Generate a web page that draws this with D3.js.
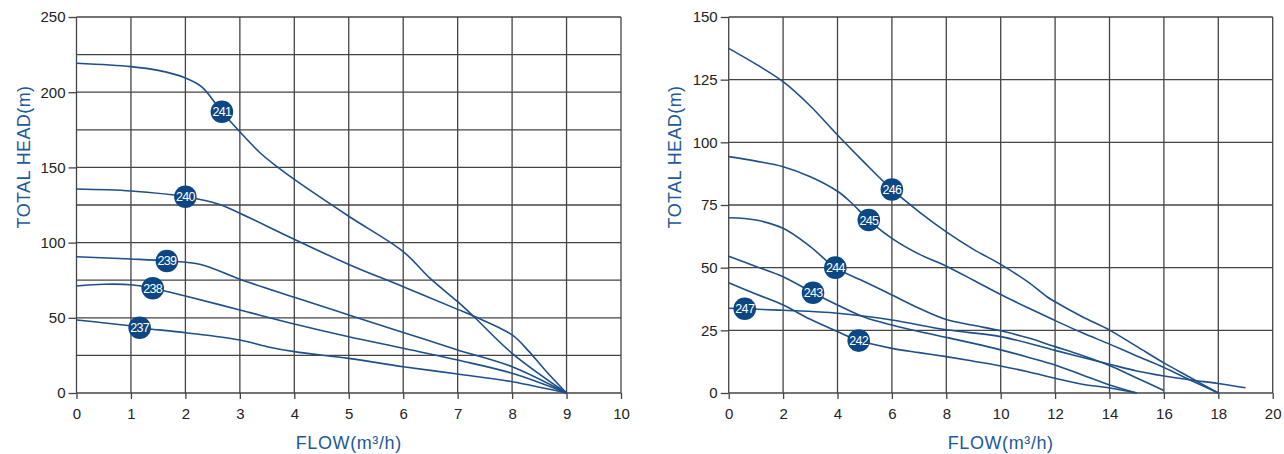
<!DOCTYPE html>
<html>
<head>
<meta charset="utf-8">
<script src="https://cdn.jsdelivr.net/npm/d3@7"></script>
<style>
  html, body { margin: 0; padding: 0; background: #fff; }
  svg { display: block; }
</style>
</head>
<body>
<svg id="chart" width="1284" height="454"></svg>
<script>
// ---------- Data ----------
// Left chart (FLOW 0-10, HEAD 0-250)
const leftXTicks = [0,1,2,3,4,5,6,7,8,9,10];
const leftYTicks = [0,50,100,150,200,250];
const leftYGrid  = [0,25,50,75,100,125,150,175,200,225,250];

const curve241 = [[0,219.2],[1,217],[1.5,214.5],[2,209.5],[2.3,203.6],[2.67,187],[3,173.7],[3.38,159.4],[3.7,150],[4,142],[5,117.5],[6,94],[6.5,76],[7,60.7],[7.3,50.7],[8,26.4],[9,0]];
const curve240 = [[0,135.6],[1,134.3],[2,130.5],[2.6,125.7],[3,119.5],[4,102.2],[5,85.5],[6,70.7],[7,55.6],[7.3,51],[8,38.6],[8.3,28],[8.6,15.5],[9,0]];
const curve239 = [[0,90.6],[1,89.1],[1.66,87.8],[2.28,85.5],[3,75.6],[4,63.6],[5,51.9],[6,40.3],[7,28.6],[8,17.5],[9,0]];
const curve238 = [[0,71.1],[0.5,72.3],[1,72],[1.4,69.6],[2,64.5],[3,55.2],[4,45.9],[5,37.4],[6,29.7],[7,21.9],[8,13.1],[9,0]];
const curve237 = [[0,48.5],[1,44.5],[1.16,43.4],[2,40.1],[3,35.2],[3.5,30.8],[4,27.5],[5,23],[6,17.5],[7,12.6],[8,7.5],[9,0]];
const leftLabels = ["241","240","239","238","237"];
const leftLabelPos = [[2.67,187],[2.0,130.5],[1.66,87.8],[1.40,69.6],[1.16,43.4]];

// Right chart (FLOW 0-20, HEAD 0-150)
const rightXTicks = [0,2,4,6,8,10,12,14,16,18,20];
const rightYTicks = [0,25,50,75,100,125,150];

const curve246 = [[0,137.5],[1,131.2],[2,124.2],[3,114.5],[4,102.9],[5,91.8],[6,81.2],[7,72.3],[8,64.3],[9,57.3],[10,51.3],[11,44.3],[11.7,38.4],[12,36.4],[13,30.4],[14,25.1],[15,18.6],[16,12],[17,6],[18,0]];
const curve245 = [[0,94.3],[1,92.5],[2,90.3],[3,86.3],[4,80.5],[4.5,76],[5.15,69],[6,61.7],[7,55.4],[8,50.6],[9,45],[10,39.3],[11,34],[12,28.9],[13,24],[14,19.5],[15,14.8],[16,10.2],[17,5],[18,0]];
const curve244 = [[0,69.9],[1,69],[2,65.7],[3,58.4],[3.92,50],[5,44.4],[6,39.1],[7,33.8],[8,29.3],[9,27],[10,24.8],[11,22],[12,18.5],[13,15],[14,11],[15,6],[16,1]];
const curve243 = [[0,54.6],[1,50.5],[2,46.4],[3.1,40],[4,35.1],[5,30.2],[6,27.1],[7,24.5],[8,22.2],[9,19.8],[10,17.2],[11,14.3],[12,11.2],[13,7.2],[14,3.2],[15,0]];
const curve242 = [[0,44],[1,39.5],[2,35.1],[3,29.4],[4,24.5],[4.78,20.9],[6,17.8],[7,16.1],[8,14.5],[9,12.7],[10,10.8],[11,8.5],[12,5.9],[13,3.5],[14,2],[15,0]];
const curve247 = [[0,33.8],[0.59,33.6],[2,33],[4,31.8],[6,29.1],[8,25.2],[10,22.5],[12,17],[14,11.5],[15,8.8],[16,6.8],[17,5.2],[18,3.8],[19,2.1]];
const rightLabels = ["246","245","244","243","242","247"];
const rightLabelPos = [[6.0,81.2],[5.15,69],[3.92,50],[3.1,40],[4.78,20.9],[0.59,33.6]];

// ---------- Drawing ----------
const svg = d3.select("#chart");
const LINE = "#1d4f8a";
const DOT = "#0c4784";
const GRID = "#444";
const TITLE = "#1d5a98";
const FONT = "'Liberation Sans', Arial, sans-serif";

function panel(cfg) {
  const x = d3.scaleLinear().domain(cfg.xDomain).range(cfg.xRange);
  const y = d3.scaleLinear().domain(cfg.yDomain).range(cfg.yRange);
  const g = svg.append("g");

  // grid
  const grid = g.append("g").attr("stroke", GRID).attr("stroke-width", 1.3);
  grid.selectAll("line.v").data(cfg.xTicks).join("line")
    .attr("x1", d => x(d)).attr("x2", d => x(d))
    .attr("y1", cfg.yRange[1]).attr("y2", cfg.yRange[0]);
  grid.selectAll("line.h").data(cfg.yGrid).join("line")
    .attr("x1", cfg.xRange[0]).attr("x2", cfg.xRange[1])
    .attr("y1", d => y(d)).attr("y2", d => y(d));

  // axes
  const xAxis = d3.axisBottom(x).tickValues(cfg.xTicks).tickSize(6).tickPadding(9).tickFormat(d3.format("d"));
  const yAxis = d3.axisLeft(y).tickValues(cfg.yTicks).tickSize(8).tickPadding(3).tickFormat(d3.format("d"));
  const gx = g.append("g").attr("transform", `translate(0,${cfg.yRange[0]})`).call(xAxis);
  const gy = g.append("g").attr("transform", `translate(${cfg.xRange[0]},0)`).call(yAxis);
  [gx, gy].forEach(a => {
    a.select(".domain").remove();
    a.selectAll(".tick line").attr("stroke", GRID).attr("stroke-width", 1.3);
    a.selectAll(".tick text").attr("fill", "#222").attr("font-size", 15).attr("font-family", FONT);
  });

  // curves
  const line = d3.line().x(d => x(d[0])).y(d => y(d[1])).curve(d3.curveCatmullRom.alpha(0.5));
  g.append("g").selectAll("path").data(cfg.curves).join("path")
    .attr("d", line).attr("fill", "none").attr("stroke", LINE).attr("stroke-width", 1.6);

  // markers
  const mk = g.append("g").selectAll("g").data(cfg.labelPos).join("g")
    .attr("transform", d => `translate(${x(d[0])},${y(d[1])})`);
  mk.append("circle").attr("r", 11.3).attr("fill", DOT);
  mk.append("text").text((d, i) => cfg.labels[i])
    .attr("text-anchor", "middle").attr("dy", "0.36em")
    .attr("fill", "#fff").attr("font-size", 12.5).attr("letter-spacing", -0.7)
    .attr("font-family", FONT);

  // titles
  g.append("text").text("FLOW(m³/h)")
    .attr("x", (cfg.xRange[0] + cfg.xRange[1]) / 2).attr("y", 449)
    .attr("text-anchor", "middle").attr("fill", TITLE)
    .attr("font-size", 18).attr("letter-spacing", 0.6).attr("font-family", FONT);
  g.append("text").text("TOTAL HEAD(m)")
    .attr("transform", `translate(${cfg.titleX},${cfg.titleY}) rotate(-90)`)
    .attr("text-anchor", "middle").attr("fill", TITLE)
    .attr("font-size", 18).attr("letter-spacing", 0.4).attr("font-family", FONT);
}

panel({
  xDomain: [0, 10], xRange: [76.5, 621],
  yDomain: [0, 250], yRange: [393, 17],
  xTicks: leftXTicks, yTicks: leftYTicks, yGrid: leftYGrid,
  curves: [curve241, curve240, curve239, curve238, curve237],
  labels: leftLabels, labelPos: leftLabelPos,
  titleX: 30, titleY: 157
});

panel({
  xDomain: [0, 20], xRange: [728.7, 1272.7],
  yDomain: [0, 150], yRange: [393, 17],
  xTicks: rightXTicks, yTicks: rightYTicks, yGrid: rightYTicks,
  curves: [curve246, curve245, curve244, curve243, curve242, curve247],
  labels: rightLabels, labelPos: rightLabelPos,
  titleX: 681, titleY: 157
});
</script>
</body>
</html>
